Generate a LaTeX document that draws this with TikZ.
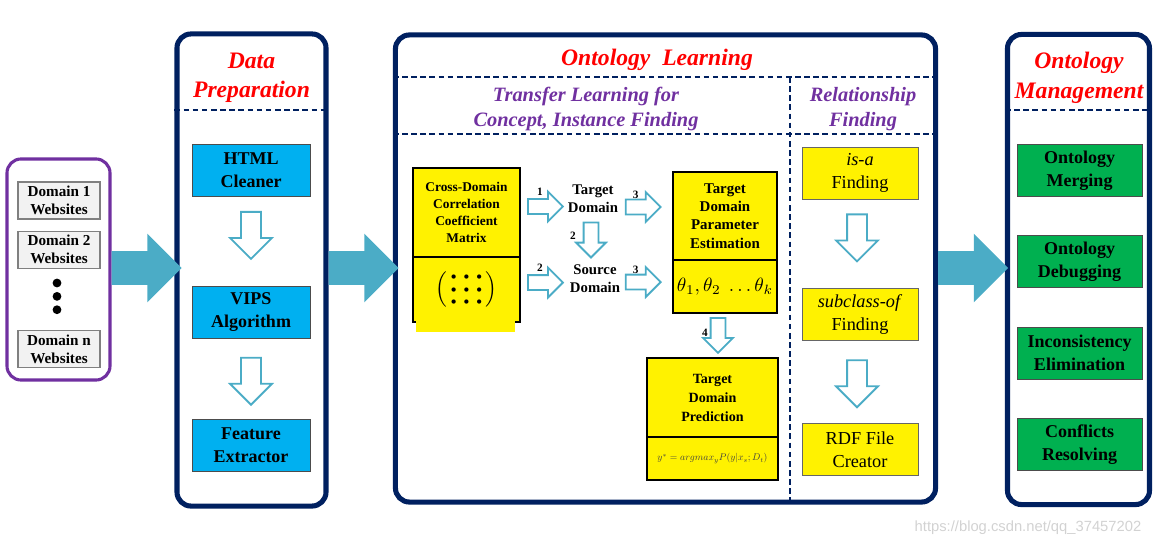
\documentclass[tikz,border=0pt]{standalone}
\usepackage{fontspec}
\setmainfont{Liberation Serif}
\newfontfamily\wmfont{Liberation Sans}
\usepackage{amssymb,amsmath}
\usetikzlibrary{shapes.arrows, positioning, calc}

\definecolor{olnavy}{RGB}{0,32,96}
\definecolor{olpurple}{RGB}{112,48,160}
\definecolor{olteal}{RGB}{75,172,198}
\definecolor{olcyan}{RGB}{0,176,240}
\definecolor{olgreen}{RGB}{0,176,80}

\newcommand{\dotmatrix}{%
  {\renewcommand{\arraystretch}{0.65}%
   $\left(\,\begin{array}{@{}c@{\hspace{5pt}}c@{\hspace{5pt}}c@{}}
     \scriptscriptstyle\bullet & \scriptscriptstyle\bullet & \scriptscriptstyle\bullet\\
     \scriptscriptstyle\bullet & \scriptscriptstyle\bullet & \scriptscriptstyle\bullet\\
     \scriptscriptstyle\bullet & \scriptscriptstyle\bullet & \scriptscriptstyle\bullet
   \end{array}\,\right)$}}

\begin{document}
\begin{tikzpicture}[
  x=0.025cm, y=-0.025cm,
  frame/.style={draw=olnavy, line width=3.6pt, rounded corners=10pt},
  srcframe/.style={frame, draw=olpurple, line width=2.2pt},
  sep/.style={draw=olnavy, line width=1.6pt, dash pattern=on 4pt off 2.5pt},
  title/.style={text=red, align=center,
                font=\fontsize{16.8}{21}\selectfont\bfseries\itshape},
  subtitle/.style={text=olpurple, align=center,
                   font=\fontsize{14.5}{17.7}\selectfont\bfseries\itshape},
  site/.style={draw=gray, fill=gray!10, line width=0.8pt, inner sep=0pt,
               minimum width=2.05cm, minimum height=0.925cm, align=center,
               font=\fontsize{10.8}{12.8}\selectfont\bfseries},
  prepbox/.style={draw=black!70, fill=olcyan, line width=0.6pt,
                  minimum width=2.95cm, minimum height=1.3cm, align=center,
                  font=\fontsize{12.8}{16.3}\selectfont\bfseries},
  mgmtbox/.style={prepbox, fill=olgreen, minimum width=3.125cm},
  relbox/.style={draw=black!60, fill=yellow, line width=0.6pt,
                 minimum width=2.9cm, minimum height=1.3cm, align=center,
                 font=\fontsize{13}{16.3}\selectfont},
  tlbox/.style={draw=black, fill=yellow, line width=1.1pt, inner sep=0pt,
                outer sep=0pt, align=center},
  tltext/.style={align=center, inner sep=1pt,
                 font=\fontsize{10.5}{12.8}\selectfont\bfseries},
  num/.style={inner sep=0pt, font=\fontsize{8}{8}\selectfont\bfseries},
  dot/.style={circle, fill=black, inner sep=0pt, minimum size=0.22cm},
  bigarrow/.style={single arrow, fill=olteal, minimum height=1.75cm,
                   inner xsep=0pt, inner ysep=0.4125cm, outer sep=0pt,
                   single arrow head extend=0.4375cm, anchor=tail},
  hollow/.style={single arrow, draw=olteal, fill=white, line width=1.3pt,
                 minimum height=1.175cm, inner xsep=0pt, inner ysep=0.225cm,
                 single arrow head extend=0.275cm, anchor=tail},
  smallhollow/.style={hollow, minimum height=0.875cm, inner ysep=0.1625cm,
                      single arrow head extend=0.1875cm},
]
\useasboundingbox (0,0) rectangle (1160,546);

%% Source websites
\node[srcframe, minimum width=2.575cm, minimum height=5.525cm] (src) at (58.5,269.5) {};
\node[site] (d1) at (59,200.5) {Domain 1\\Websites};
\node[site, below=0.275cm of d1] (d2) {Domain 2\\Websites};
\node[dot] (v1) at (57,283) {};
\node[dot, below=0.1cm of v1] (v2) {};
\node[dot, below=0.1cm of v2] (v3) {};
\node[site] (dn) at (59,349) {Domain n\\Websites};

%% Data preparation
\coordinate (psep) at (0,110);
\node[frame, minimum width=3.725cm, minimum height=11.8cm] (prep) at (251.5,270) {};
\node[title] (preptitle) at (251.5,78) {Data\\Preparation};
\draw[sep] (prep.west |- psep) -- (prep.east |- psep);
\node[prepbox] (html) at (251,170.5) {HTML\\Cleaner};
\node[prepbox, below=2.225cm of html] (vips) {VIPS\\Algorithm};
\node[prepbox, below=2.0cm of vips] (feat) {Feature\\Extractor};
\node[hollow, rotate=-90] (h1) at ($(html.south)+(0,14)$) {};
\node[hollow, rotate=-90] (h2) at ($(vips.south)+(0,18)$) {};

%% Ontology learning
\coordinate (osep1) at (0,77);
\coordinate (osep2) at (0,134);
\coordinate (rtop) at (790,77);
\node[frame, minimum width=13.5cm, minimum height=11.675cm] (ol) at (665.5,268.5) {};
\node[title] (oltitle) at (657,60) {Ontology\ \ Learning};
\draw[sep] (ol.west |- osep1) -- (ol.east |- osep1);
\draw[sep] (ol.west |- osep2) -- (ol.east |- osep2);
\draw[sep] (rtop) -- (rtop |- ol.south);
\node[subtitle] (tltitle) at (586,109) {Transfer Learning for\\Concept, Instance Finding};
\node[subtitle] (rftitle) at (863,109) {Relationship\\Finding};

% transfer learning
\node[tlbox, minimum width=2.675cm, minimum height=2.225cm,
      font=\fontsize{9.5}{12}\selectfont\bfseries] (cdtop) at (466.5,212.5)
  {Cross-Domain\\Correlation\\Coefficient\\Matrix};
\node[tlbox, minimum width=2.675cm, minimum height=1.625cm, below=0pt of cdtop,
      font=\fontsize{14}{14}\selectfont] (cdbot) {\dotmatrix};
\fill[yellow] ($(cdbot.south west)+(3,-1)$) rectangle ($(cdbot.south east)+(-5,10)$);
\node[tltext] (tgt) at (593,199) {Target\\Domain};
\node[tltext] (srcd) at (595,279) {Source\\Domain};
\node[tlbox, minimum width=2.6cm, minimum height=2.2cm,
      font=\fontsize{10.6}{13}\selectfont\bfseries] (ptop) at (725,216)
  {Target\\Domain\\Parameter\\Estimation};
\node[tlbox, minimum width=2.6cm, minimum height=1.325cm, below=0pt of ptop] (pbot)
  {\resizebox{2.4cm}{!}{$\theta_1,\theta_2\ \ldots\theta_k$}};
\node[tlbox, minimum width=3.275cm, minimum height=1.975cm,
      font=\fontsize{10}{13.5}\selectfont\bfseries] (qtop) at (712.5,397.5)
  {Target\\Domain\\Prediction};
\node[tlbox, minimum width=3.275cm, minimum height=1.075cm, below=0pt of qtop,
      text=black!75] (qbot)
  {\resizebox{2.75cm}{!}{$y^{*}=argmax_{y}P(y|x_s;D_t)$}};

\node[smallhollow] (a1) at ($(cdtop.east)+(7,-6)$) {};
\node[smallhollow] (a2) at ($(cdbot.east)+(7,-7)$) {};
\node[smallhollow, rotate=-90] (a2v) at ($(tgt.south)+(-2,7)$) {};
\node[smallhollow, anchor=tip] (a3) at ($(ptop.west)+(-11,-9)$) {};
\node[smallhollow, anchor=tip] (a3b) at ($(pbot.west)+(-11,-4.5)$) {};
\node[smallhollow, rotate=-90] (a4) at ($(pbot.south)+(-7,4)$) {};
\node[num] (n1) at ($(a1.tail)+(13,-15)$) {1};
\node[num] (n2) at ($(a2.tail)+(13,-15)$) {2};
\node[num] (n2v) at ($(a2v.tail)+(-18,14)$) {2};
\node[num] (n3) at ($(a3.tail)+(11,-12)$) {3};
\node[num] (n3b) at ($(a3b.tail)+(11,-12)$) {3};
\node[num] (n4) at ($(a4.tail)+(-13,16)$) {4};

% relationship finding
\node[relbox] (isa) at (860,173) {\textit{is-a}\\Finding};
\node[relbox, below=2.225cm of isa] (subc) {\textit{subclass-of}\\Finding};
\node[relbox, below=2.04cm of subc] (rdf) {RDF File\\Creator};
\node[hollow, rotate=-90] (r1) at ($(isa.south)+(-3,14)$) {};
\node[hollow, rotate=-90] (r2) at ($(subc.south)+(-3,18)$) {};

%% Ontology management
\node[frame, minimum width=3.55cm, minimum height=11.75cm] (mgmt) at (1078.5,269.5) {};
\node[title] (mgtitle) at (1079,78) {Ontology\\Management};
\draw[sep] (mgmt.west |- psep) -- (mgmt.east |- psep);
\node[mgmtbox] (merge) at (1079.5,170.5) {Ontology\\Merging};
\node[mgmtbox, below=0.96cm of merge] (debug) {Ontology\\Debugging};
\node[mgmtbox, below=0.96cm of debug] (incons) {Inconsistency\\Elimination};
\node[mgmtbox, below=0.96cm of incons] (confl) {Conflicts\\Resolving};

%% Big arrows between stages
\node[bigarrow] (b1) at ($(src.east)+(0,-1.5)$) {};
\node[bigarrow] (b2) at ($(prep.east)+(0,-2)$) {};
\node[bigarrow] (b3) at ($(ol.east)+(0,-0.5)$) {};

\node[text=gray!35, font=\wmfont\fontsize{10.5}{12}\selectfont] (wm) at (1028,528)
  {https://blog.csdn.net/qq\_37457202};

\end{tikzpicture}
\end{document}
